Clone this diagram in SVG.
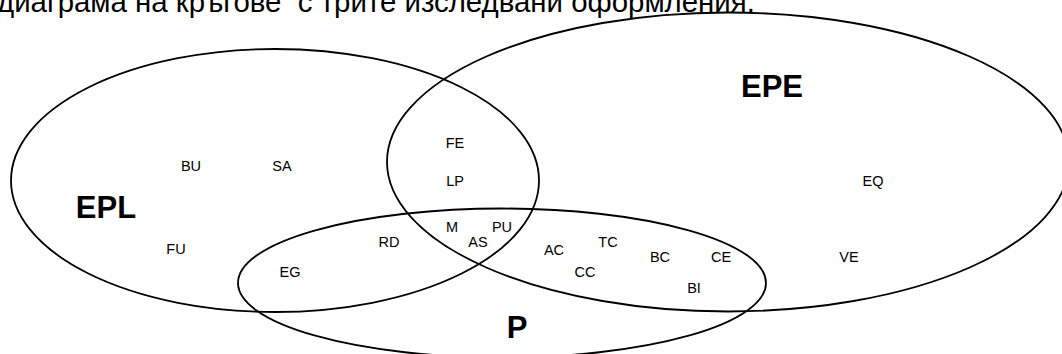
<svg xmlns="http://www.w3.org/2000/svg" width="1062" height="354" viewBox="0 0 1062 354">
<style>
  .set { fill: none; stroke: #000; stroke-width: 1.8; }
  .big { font-family: "Liberation Sans", Arial, sans-serif; font-weight: bold; font-size: 31px; fill: #000; text-anchor: middle; }
  .item { font-family: "Liberation Sans", Arial, sans-serif; font-size: 14.5px; fill: #000; text-anchor: middle; }
  .title { font-family: "Liberation Sans", Arial, sans-serif; font-size: 29.4px; fill: #000; }
</style>
<rect x="0" y="0" width="1062" height="354" fill="#fff"/>
<text class="title" x="-3" y="12" xml:space="preserve">диаграма на кръгове  с трите изследвани оформления.</text>
<g id="set-EPL">
  <ellipse class="set" cx="275" cy="180.5" rx="264" ry="131.5"/>
  <text class="big" x="106" y="218">EPL</text>
</g>
<g id="set-EPE">
  <ellipse class="set" cx="728" cy="162" rx="341" ry="149.5"/>
  <text class="big" x="772" y="97">EPE</text>
</g>
<g id="set-P">
  <ellipse class="set" cx="502" cy="283" rx="264" ry="74.5"/>
  <text class="big" x="517" y="338">P</text>
</g>
<g id="connectors"/>
<g id="item-BU"><text class="item" x="191" y="171">BU</text></g>
<g id="item-SA"><text class="item" x="282" y="171">SA</text></g>
<g id="item-FU"><text class="item" x="176" y="254">FU</text></g>
<g id="item-EG"><text class="item" x="290" y="277">EG</text></g>
<g id="item-RD"><text class="item" x="389" y="247">RD</text></g>
<g id="item-FE"><text class="item" x="455" y="148">FE</text></g>
<g id="item-LP"><text class="item" x="455" y="186">LP</text></g>
<g id="item-M"><text class="item" x="452" y="232">M</text></g>
<g id="item-PU"><text class="item" x="502" y="232">PU</text></g>
<g id="item-AS"><text class="item" x="478" y="247">AS</text></g>
<g id="item-AC"><text class="item" x="554" y="255">AC</text></g>
<g id="item-TC"><text class="item" x="608" y="247">TC</text></g>
<g id="item-CC"><text class="item" x="585" y="277">CC</text></g>
<g id="item-BC"><text class="item" x="660" y="262">BC</text></g>
<g id="item-CE"><text class="item" x="721" y="262">CE</text></g>
<g id="item-BI"><text class="item" x="694" y="293">BI</text></g>
<g id="item-VE"><text class="item" x="849" y="262">VE</text></g>
<g id="item-EQ"><text class="item" x="873" y="186">EQ</text></g>
</svg>
